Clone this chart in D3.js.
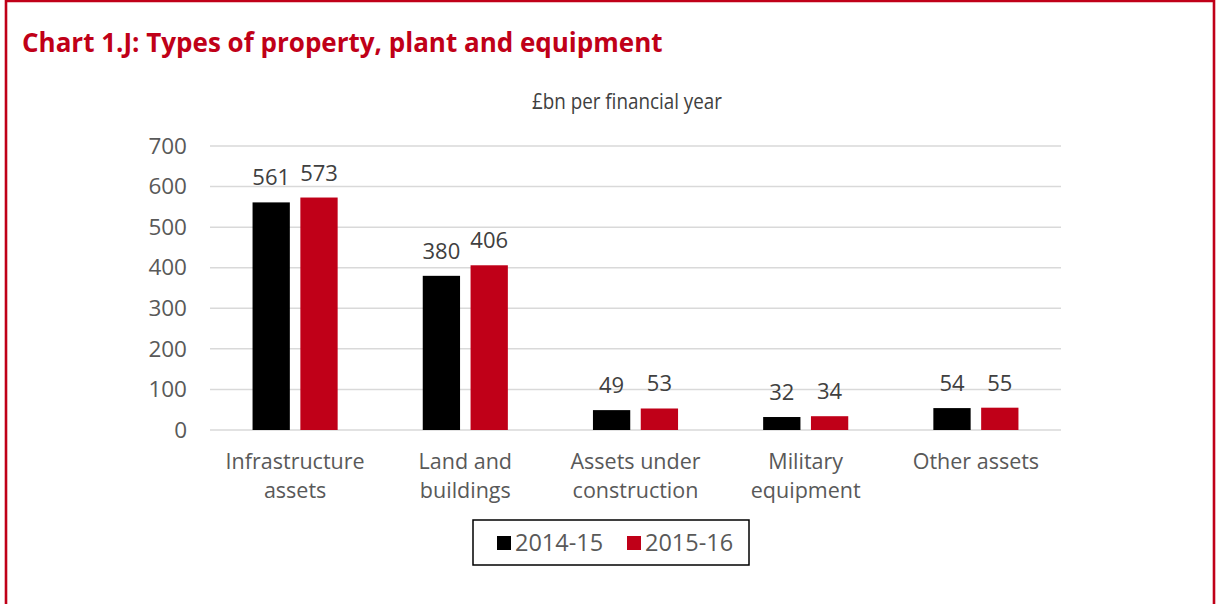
<!DOCTYPE html>
<html>
<head>
<meta charset="utf-8">
<script src="https://cdn.jsdelivr.net/npm/d3@7"></script>
<style>
  body { margin: 0; background: #fff; }
  svg text { font-family: "Open Sans", "Noto Sans", sans-serif; }
</style>
</head>
<body>
<div id="chart"></div>
<script>
// chart data
const categories = [["Infrastructure", "assets"], ["Land and", "buildings"], ["Assets under", "construction"], ["Military", "equipment"], ["Other assets"]];
const series = ["2014-15", "2015-16"];
const values2014 = [561, 380, 49, 32, 54];
const values2015 = [573, 406, 53, 34, 55];
const yTicks = [0, 100, 200, 300, 400, 500, 600, 700];
const colors = ["#000000", "#c00018"];

const W = 1216, H = 604;
let margin = {top: 146, left: 210, right: 155, bottom: 174};
let width = W - margin.left - margin.right,
    height = H - margin.top - margin.bottom;

let svg = d3.select("#chart").append("svg")
  .attr("width", W).attr("height", H);

// red frame (no bottom edge visible)
svg.append("path")
  .attr("d", `M6,${H} V1 H1214 V${H}`)
  .attr("fill", "none")
  .attr("stroke", "#c00018")
  .attr("stroke-width", 2.6);

svg.append("text")
  .attr("x", 22).attr("y", 52)
  .attr("fill", "#c00018")
  .attr("font-size", "26px")
  .attr("font-weight", "bold")
  .text("Chart 1.J: Types of property, plant and equipment");

svg.append("text")
  .attr("x", 627).attr("y", 109)
  .attr("text-anchor", "middle")
  .attr("fill", "#404040")
  .attr("font-size", "21px")
  .attr("textLength", 190)
  .attr("lengthAdjust", "spacingAndGlyphs")
  .text("£bn per financial year");

let g = svg.append("g").attr("transform", `translate(${margin.left},${margin.top})`);

let y = d3.scaleLinear().domain([0, 700]).range([height, 0]);
let x0 = d3.scaleBand().domain(d3.range(categories.length)).range([0, width]);
let x1 = d3.scaleBand().domain(series)
  .range([x0.bandwidth() * 0.25, x0.bandwidth() * 0.75]).paddingInner(0.22);

// gridlines
g.append("g")
  .selectAll("line")
  .data(yTicks)
  .join("line")
  .attr("x1", 0).attr("x2", width)
  .attr("y1", d => y(d)).attr("y2", d => y(d))
  .attr("stroke", "#d9d9d9")
  .attr("stroke-width", 1.5);

// y axis
let yAxis = g.append("g")
  .call(d3.axisLeft(y).tickValues(yTicks).tickSize(0).tickPadding(23));
yAxis.select(".domain").remove();
yAxis.selectAll("text")
  .attr("font-size", "22.5px")
  .attr("fill", "#595959")
  .attr("font-family", null);

// bars
const rows = categories.map((c, i) => ({i: i, vals: [values2014[i], values2015[i]]}));
let groups = g.selectAll(".grp")
  .data(rows)
  .join("g")
  .attr("class", "grp")
  .attr("transform", d => `translate(${x0(d.i)},0)`);

groups.selectAll("rect")
  .data(d => d.vals.map((v, k) => ({s: series[k], v: v, k: k})))
  .join("rect")
  .attr("x", d => x1(d.s))
  .attr("width", x1.bandwidth())
  .attr("y", d => y(d.v))
  .attr("height", d => y(0) - y(d.v))
  .attr("fill", d => colors[d.k]);

groups.selectAll(".lbl")
  .data(d => d.vals.map((v, k) => ({s: series[k], v: v})))
  .join("text")
  .attr("class", "lbl")
  .attr("x", d => x1(d.s) + x1.bandwidth() / 2)
  .attr("y", d => y(d.v) - 17)
  .attr("text-anchor", "middle")
  .attr("font-size", "22px")
  .attr("fill", "#404040")
  .text(d => d.v);

// category labels
groups.append("text")
  .attr("text-anchor", "middle")
  .attr("font-size", "21.5px")
  .attr("fill", "#595959")
  .attr("transform", `translate(${x0.bandwidth() / 2},${height + 39})`)
  .selectAll("tspan")
  .data(d => categories[d.i])
  .join("tspan")
  .attr("x", 0)
  .attr("dy", (d, i) => i === 0 ? 0 : 29)
  .text(d => d);

// legend
let leg = svg.append("g").attr("transform", "translate(473,520)");
leg.append("rect")
  .attr("width", 276).attr("height", 45)
  .attr("fill", "#fff")
  .attr("stroke", "#000")
  .attr("stroke-width", 1.5);
let items = leg.selectAll(".item")
  .data(series)
  .join("g")
  .attr("class", "item")
  .attr("transform", (d, i) => `translate(${24 + i * 130},0)`);
items.append("rect")
  .attr("y", 16).attr("width", 14).attr("height", 14)
  .attr("fill", (d, i) => colors[i]);
items.append("text")
  .attr("x", 18).attr("y", 31)
  .attr("font-size", "23.5px")
  .attr("fill", "#595959")
  .text(d => d);
</script>
</body>
</html>
